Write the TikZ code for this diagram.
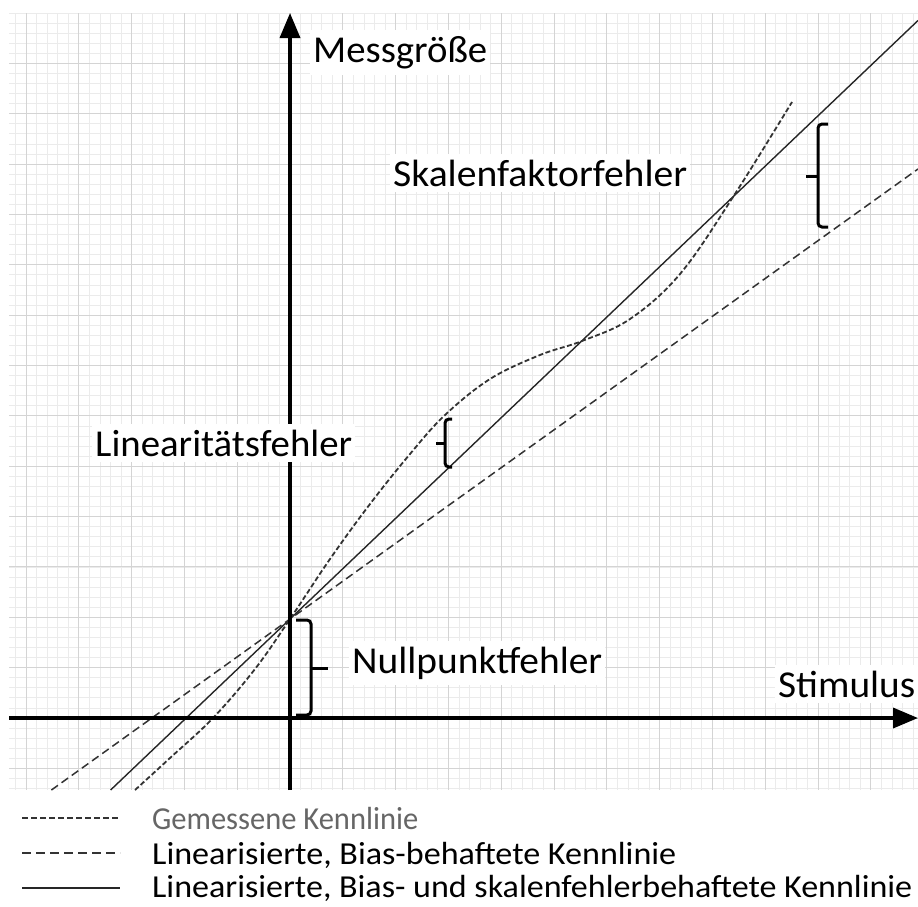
\documentclass[tikz,border=0pt]{standalone}
\usepackage{graphicx}
\usepackage{fontspec}
\setmainfont{Carlito}
\usetikzlibrary{arrows.meta}
\newcommand\fitto[2]{\resizebox{#1}{\height}{#2}}
\begin{document}
\begin{tikzpicture}[x=1pt,y=-1pt,
 minorgrid/.style={draw=black!8, line width=0.8pt},
 majorgrid/.style={draw=black!17, line width=1pt},
 axisline/.style={line width=3.5pt, -{Triangle[length=25pt,width=20pt]}},
 lbl/.style={fill=white, inner xsep=3pt, inner ysep=6pt, anchor=base west, font=\fontsize{38}{44}\selectfont},
 bracket/.style={line width=3pt, rounded corners=4pt},
 braceTip/.style={line width=3pt},
 solidk/.style={line width=1.4pt, draw=black!85},
 biask/.style={line width=1.5pt, draw=black!80, dash pattern=on 8pt off 4.5pt},
 meask/.style={line width=1.8pt, draw=black!80, dash pattern=on 5pt off 2.5pt},
 leg/.style={anchor=base west, inner sep=0pt, font=\fontsize{32}{36}\selectfont}]

\useasboundingbox (0,0) rectangle (918,906);
\fill[white] (0,0) rectangle (918,906);

% grid
\begin{scope}
\clip (9,13) rectangle (918,790);
\foreach \k in {-27,...,60} \draw[minorgrid] ({290+10.56*\k},13) -- ({290+10.56*\k},790);
\foreach \k in {-8,...,71} \draw[minorgrid] (9,{718-10.072*\k}) -- (918,{718-10.072*\k});
\foreach \k in {-6,...,12} \draw[majorgrid] ({290+52.8*\k},13) -- ({290+52.8*\k},790);
\foreach \k in {-2,...,14} \draw[majorgrid] (9,{718-50.36*\k}) -- (918,{718-50.36*\k});
\end{scope}

% characteristic lines
\coordinate (s0) at (110.6,790);
\coordinate (s1) at (918,20.5);
\coordinate (b0) at (51.4,790);
\coordinate (b1) at (918,169);
\draw[solidk] (s0) -- (s1);
\draw[biask] (b0) -- (b1);
\draw[meask] plot[smooth, tension=0.6] coordinates {
 (135,790) (170,758) (213,718) (255,669) (290,619) (330,559) (370,504)
 (410,454) (445,415) (490,379) (540,355) (582,341) (630,319) (680,274)
 (733,197) (792,102)};

% brackets
\draw[bracket] (296,620) -- (311,620) -- (311,715) -- (296,715);
\coordinate (n0) at (310,668); \coordinate (n1) at (328,668);
\draw[braceTip] (n0) -- (n1);
\draw[bracket] (452,419) -- (445,419) -- (445,467) -- (452,467);
\coordinate (l0) at (446,443); \coordinate (l1) at (436,443);
\draw[braceTip] (l0) -- (l1);
\draw[bracket] (828,124) -- (818,124) -- (818,227) -- (828,227);
\coordinate (k0) at (819,176); \coordinate (k1) at (806,176);
\draw[braceTip] (k0) -- (k1);

% axes
\coordinate (ya0) at (290,790); \coordinate (ya1) at (290,13);
\coordinate (xa0) at (9,718); \coordinate (xa1) at (918,718);
\draw[axisline] (ya0) -- (ya1);
\draw[axisline] (xa0) -- (xa1);

% labels
\node[lbl] (mess) at (310,62) {\fitto{174pt}{Messgröße}\hspace{10pt}};
\node[lbl] (skal) at (390,186) {\fitto{294pt}{Skalenfaktorfehler}\hspace{25pt}};
\node[lbl] (lin) at (92,456) {\fitto{257pt}{Linearitätsfehler}\hspace{20pt}};
\node[lbl] (null) at (349,673) {\fitto{250pt}{Nullpunktfehler}\hspace{27pt}};
\node[lbl] (stim) at (775,697) {\fitto{137pt}{Stimulus}};

% legend
\coordinate (g0) at (22,818); \coordinate (g1) at (120,818);
\coordinate (h0) at (22,853); \coordinate (h1) at (120,853);
\coordinate (i0) at (22,888); \coordinate (i1) at (120,888);
\draw[meask, line width=1.4pt, dash pattern=on 6pt off 3pt] (g0) -- (g1);
\draw[biask, line width=1.5pt, dash pattern=on 9pt off 5pt] (h0) -- (h1);
\draw[solidk] (i0) -- (i1);
\node[leg, text=black!60] (t1) at (152,829) {\fitto{266pt}{Gemessene Kennlinie}};
\node[leg] (t2) at (152,864) {\fitto{524pt}{Linearisierte, Bias-behaftete Kennlinie}};
\node[leg] (t3) at (152,897) {\fitto{760pt}{Linearisierte, Bias- und skalenfehlerbehaftete Kennlinie}};
\end{tikzpicture}
\end{document}
